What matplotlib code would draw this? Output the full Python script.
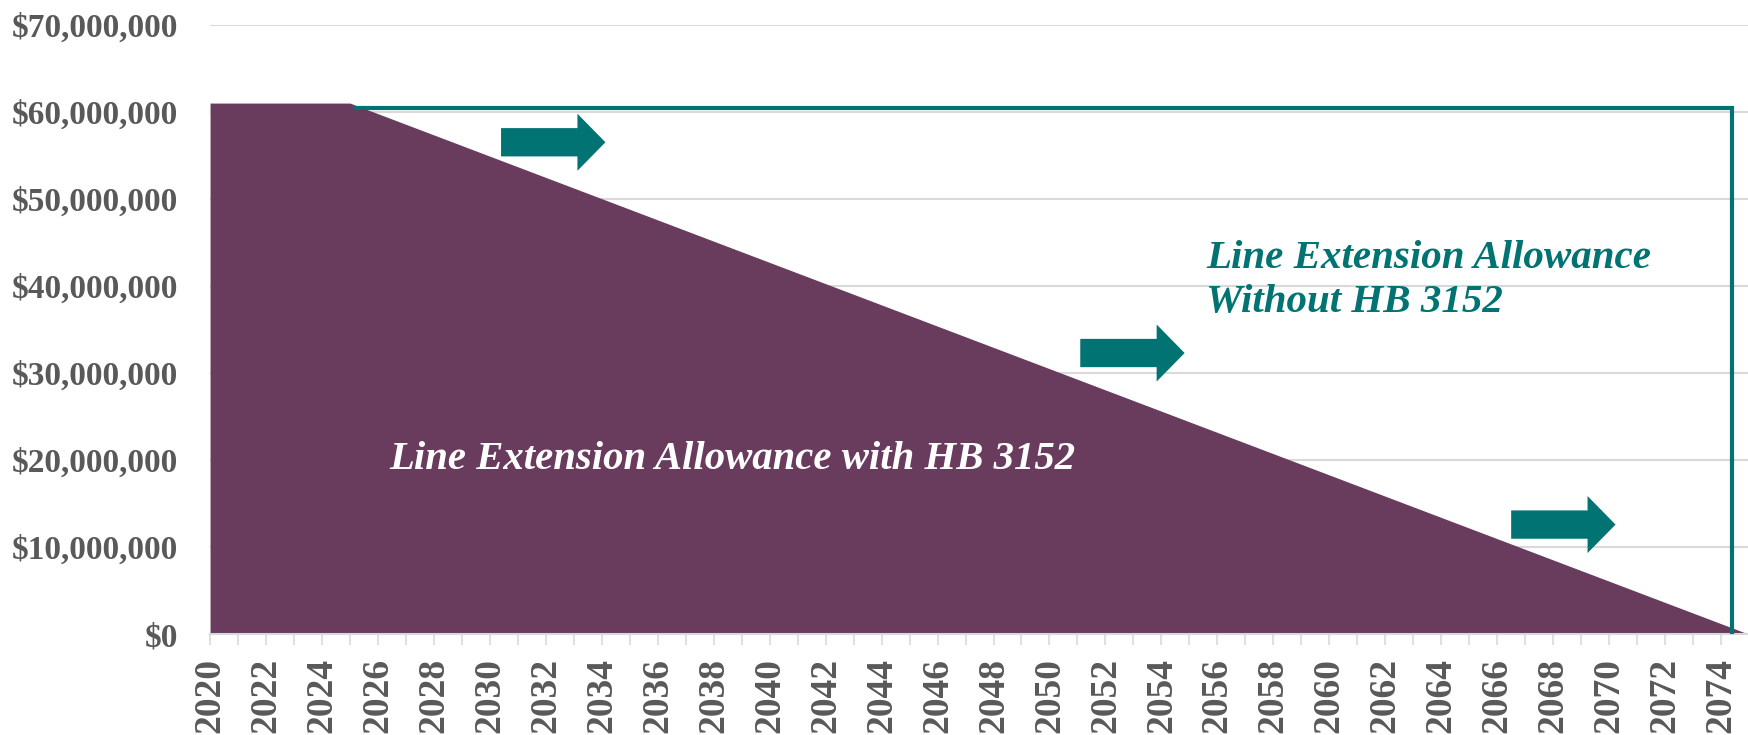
"""Line extension allowance with and without HB 3152."""

import matplotlib.pyplot as plt
from matplotlib.patches import FancyArrow
from matplotlib.ticker import FuncFormatter, MultipleLocator

PURPLE = "#693B5C"
TEAL = "#007372"
GRID = "#D9D9D9"
TEXT_GREY = "#595959"

# allowance with HB 3152 (flat, then phased down to zero)
with_years = [2020, 2025, 2075]
with_values = [61_000_000, 61_000_000, 0]

# allowance without HB 3152 (flat until the end of the period)
without_years = [2025.2, 2074.4, 2074.4]
without_values = [60_400_000, 60_400_000, 0]

# arrow annotations: (start year, centre value)
arrow_starts = [(2030.4, 56_500_000), (2051.1, 32_300_000), (2066.5, 12_600_000)]

y_ticks = list(range(0, 70_000_001, 10_000_000))

plt.rcParams["font.family"] = ["Liberation Serif", "DejaVu Serif"]

fig = plt.figure(figsize=(17.49, 7.35), dpi=100)
ax = fig.add_axes([0.1201, 0.137, 0.8799, 0.8294])

ax.fill_between(with_years, with_values, 0, color=PURPLE, linewidth=0, zorder=2)
ax.plot(without_years, without_values, color=TEAL, linewidth=3.0,
        solid_joinstyle="miter", zorder=3)

for x0, y0 in arrow_starts:
    ax.add_patch(FancyArrow(x0, y0, 3.73, 0, width=3_250_000,
                            head_width=6_550_000, head_length=1.0,
                            length_includes_head=True, color=TEAL,
                            linewidth=0, zorder=4))

ax.text(2026.4, 19_000_000, "Line Extension Allowance with HB 3152",
        color="white", fontsize=29.3, fontweight="bold", fontstyle="italic",
        ha="left", va="baseline", zorder=5)
ax.text(2055.6, 37_000_000, "Line Extension Allowance\nWithout HB 3152",
        color=TEAL, fontsize=29.5, fontweight="bold", fontstyle="italic",
        ha="left", va="baseline", linespacing=1.25, zorder=5)

ax.set_xlim(2020, 2075)
ax.set_ylim(0, 70_000_000)
ax.set_yticks(y_ticks)
ax.yaxis.set_major_formatter(FuncFormatter(lambda v, _: f"${v:,.0f}"))
ax.xaxis.set_major_locator(MultipleLocator(2))
ax.xaxis.set_minor_locator(MultipleLocator(1))

ax.grid(axis="y", color=GRID, linewidth=1.5)
ax.set_axisbelow(True)
for side in ("left", "top", "right"):
    ax.spines[side].set_visible(False)
ax.spines["bottom"].set_color(GRID)
ax.spines["bottom"].set_linewidth(1.5)

ax.tick_params(axis="y", length=0, pad=23, labelsize=24, labelcolor=TEXT_GREY)
ax.tick_params(axis="x", which="both", length=8, width=1.2, color=GRID,
               labelsize=27, labelcolor=TEXT_GREY, pad=9)
for label in ax.get_xticklabels() + ax.get_yticklabels():
    label.set_fontweight("bold")
for label in ax.get_xticklabels():
    label.set_rotation(90)

fig.savefig("out.png", dpi=100)
